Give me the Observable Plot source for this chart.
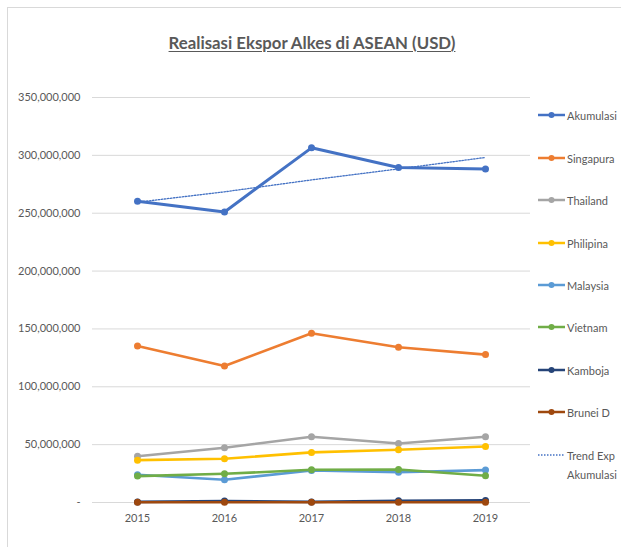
<!DOCTYPE html>
<html>
<head>
<meta charset="utf-8">
<script src="https://cdn.jsdelivr.net/npm/d3@7"></script>
<script src="https://cdn.jsdelivr.net/npm/@observablehq/plot@0.6"></script>
<style>
  html, body { margin: 0; padding: 0; background: #fff; }
  #wrap { position: relative; width: 621px; height: 547px; overflow: hidden; font-family: Lato, "Open Sans", sans-serif; }
  #frame { position: absolute; left: 7px; top: 7px; width: 640px; height: 560px; border-top: 1px solid #d9d9d9; border-left: 1px solid #d9d9d9; }
  #title { position: absolute; left: 0; width: 624px; top: 32px; text-align: center; font-weight: bold; font-size: 16.8px; color: #595959; text-decoration: underline; text-underline-offset: 2px; }
  #chart { position: absolute; left: 0; top: 70px; }
  #legend { position: absolute; left: 0; top: 0; }
  .li { position: absolute; left: 538px; font-size: 11px; color: #595959; line-height: 19px; }
  .li svg { position: absolute; left: 0; top: 0; }
  .li span { position: absolute; left: 29px; top: -9px; white-space: nowrap; }
</style>
</head>
<body>
<div id="wrap">
  <div id="frame"></div>
  <div id="title">Realisasi Ekspor Alkes di ASEAN (USD)</div>
  <div id="chart"></div>
  <div id="legend"></div>
</div>
<script>
const years = ["2015", "2016", "2017", "2018", "2019"];
const seriesNames = ["Akumulasi", "Singapura", "Thailand", "Philipina", "Malaysia", "Vietnam", "Kamboja", "Brunei D"];
const seriesColors = ["#4472C4", "#ED7D31", "#A5A5A5", "#FFC000", "#5B9BD5", "#70AD47", "#264478", "#9E480E"];
const akumulasi = [260400000, 251100000, 306500000, 289500000, 288300000];
const singapura = [135200000, 117900000, 146200000, 134100000, 127800000];
const thailand  = [40000000, 47300000, 56800000, 51000000, 56800000];
const philipina = [36600000, 37800000, 43300000, 45600000, 48400000];
const malaysia  = [24000000, 19600000, 27700000, 26200000, 28000000];
const vietnam   = [22800000, 24800000, 28300000, 28500000, 23100000];
const kamboja   = [500000, 1200000, 500000, 1500000, 1800000];
const brunei    = [200000, 200000, 200000, 200000, 200000];
const trendName = "Trend Exp Akumulasi";
const trendExp  = [259500000, 268500000, 278800000, 288300000, 298200000];
const yTicks = [0, 50000000, 100000000, 150000000, 200000000, 250000000, 300000000, 350000000];

const allSeries = [akumulasi, singapura, thailand, philipina, malaysia, vietnam, kamboja, brunei];
const rows = [];
seriesNames.forEach((name, i) => {
  years.forEach((yr, j) => rows.push({series: name, year: yr, value: allSeries[i][j], order: i}));
});
const trendRows = years.map((yr, j) => ({year: yr, value: trendExp[j]}));

const fmt = d => d === 0 ? "-" : d3.format(",")(d);

const chart = Plot.plot({
  width: 535,
  height: 470,
  marginLeft: 92,
  marginRight: 5,
  marginTop: 27,
  marginBottom: 38,
  style: { fontFamily: "Lato, 'Open Sans', sans-serif", fontSize: "11px", color: "#595959", background: "transparent" },
  x: { type: "point", domain: years, padding: 0.5, label: null, tickSize: 0, tickPadding: 12 },
  y: { domain: [0, 350000000], ticks: yTicks, tickFormat: fmt, label: null, tickSize: 0, tickPadding: 12 },
  color: { domain: seriesNames, range: seriesColors },
  marks: [
    Plot.gridY(yTicks, { stroke: "#d9d9d9", strokeOpacity: 1, strokeWidth: 1 }),
    ...seriesNames.map((name, i) => Plot.line(rows.filter(r => r.series === name), {
      x: "year", y: "value", stroke: seriesColors[i], strokeWidth: i === 0 ? 3 : 2.6
    })),
    ...seriesNames.map((name, i) => Plot.dot(rows.filter(r => r.series === name), {
      x: "year", y: "value", fill: seriesColors[i], r: 3.5
    })),
    Plot.line(trendRows, { x: "year", y: "value", stroke: "#4472C4", strokeWidth: 1.3, strokeDasharray: "1.5,1.5" })
  ]
});
document.getElementById("chart").appendChild(chart);

// Legend
const legend = document.getElementById("legend");
const legendY = [115, 158, 200, 243, 285, 327, 370, 412];
seriesNames.forEach((name, i) => {
  const d = document.createElement("div");
  d.className = "li";
  d.style.top = legendY[i] + "px";
  d.innerHTML = `<svg width="28" height="10" style="top:-5px"><line x1="0" x2="27" y1="5" y2="5" stroke="${seriesColors[i]}" stroke-width="2.5"/><circle cx="13.5" cy="5" r="3" fill="${seriesColors[i]}"/></svg><span>${name}</span>`;
  legend.appendChild(d);
});
const t = document.createElement("div");
t.className = "li";
t.style.top = "455px";
t.innerHTML = `<svg width="28" height="10" style="top:-5px"><line x1="0" x2="27" y1="5" y2="5" stroke="#4472C4" stroke-width="1.3" stroke-dasharray="1.5,1.5"/></svg><span>Trend Exp<br>Akumulasi</span>`;
legend.appendChild(t);
</script>
</body>
</html>
